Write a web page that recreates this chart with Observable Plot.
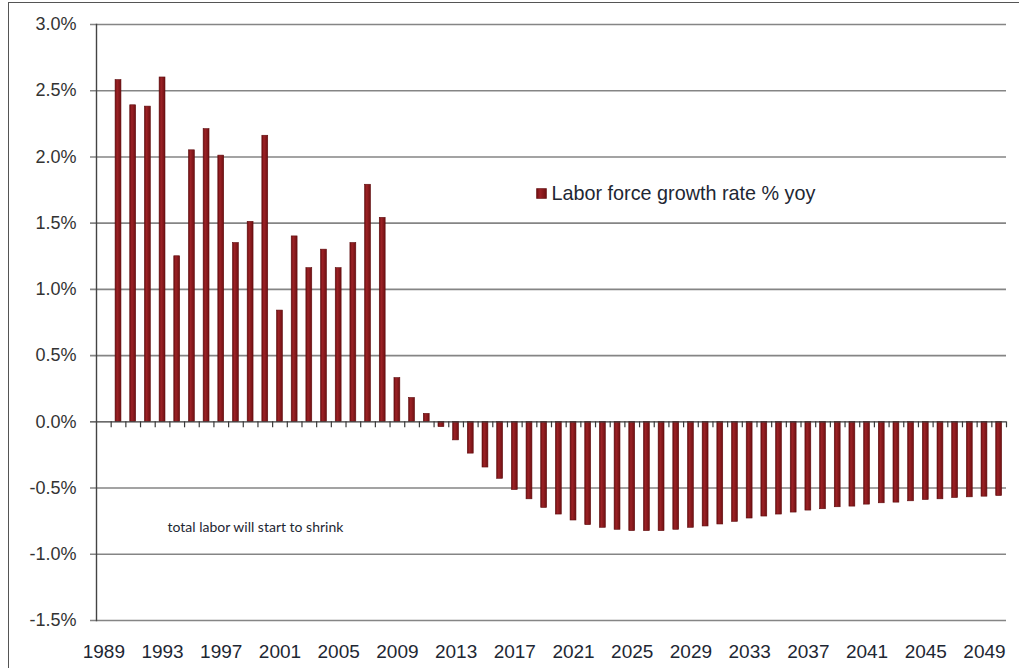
<!DOCTYPE html>
<html>
<head>
<meta charset="utf-8">
<script src="https://cdn.jsdelivr.net/npm/d3@7"></script>
<script src="https://cdn.jsdelivr.net/npm/@observablehq/plot@0.6"></script>
<style>
  html, body { margin: 0; padding: 0; background: #fff; overflow: hidden; }
  #wrap { position: relative; width: 1019px; height: 668px; }
  #border { position: absolute; left: 8px; top: 2px; width: 1200px; height: 900px;
            border: 1.5px solid #555; pointer-events: none; }
  svg { font-family: "Liberation Sans", Arial, sans-serif; }
</style>
</head>
<body>
<div id="wrap"><div id="border"></div></div>
<script>
// ---- data ----
const years = [1989,1990,1991,1992,1993,1994,1995,1996,1997,1998,1999,2000,2001,2002,2003,2004,2005,2006,2007,2008,2009,2010,
  2011,2012,2013,2014,2015,2016,2017,2018,2019,2020,2021,2022,2023,2024,2025,2026,2027,2028,2029,2030,
  2031,2032,2033,2034,2035,2036,2037,2038,2039,2040,2041,2042,2043,2044,2045,2046,2047,2048,2049,2050];
const growth = [null,
  2.58, 2.39, 2.38, 2.60, 1.25, 2.05, 2.21, 2.01, 1.35, 1.51, 2.16, 0.84, 1.40, 1.16, 1.30, 1.16, 1.35, 1.79, 1.54, 0.33, 0.18,
  0.06, -0.04, -0.14, -0.24, -0.345, -0.43, -0.515, -0.585, -0.65, -0.70, -0.745, -0.78, -0.80, -0.815, -0.825, -0.825, -0.825, -0.815, -0.80, -0.79,
  -0.775, -0.755, -0.73, -0.715, -0.70, -0.685, -0.67, -0.66, -0.645, -0.64, -0.625, -0.615, -0.61, -0.60, -0.59, -0.585, -0.575, -0.57, -0.565, -0.56];
const xTickLabels = [1989,1993,1997,2001,2005,2009,2013,2017,2021,2025,2029,2033,2037,2041,2045,2049];
const yTicks = [-1.5,-1.0,-0.5,0,0.5,1.0,1.5,2.0,2.5,3.0];
const seriesName = "Labor force growth rate % yoy";
const note = "total labor will start to shrink";

const table = years.map((year, i) => ({year, value: growth[i]}));

// ---- layout ----
const W = 1019, H = 668;
const mL = 96, mR = 13, mT = 24, mB = 48;
const step = (W - mL - mR) / years.length;

const chart = Plot.plot({
  width: W, height: H,
  marginLeft: mL, marginRight: mR, marginTop: mT, marginBottom: mB,
  x: {type: "band", domain: years, paddingInner: 0.6, paddingOuter: 0.3, axis: null, label: null},
  y: {domain: [-1.5, 3.0], axis: null, label: null},
  marks: [
    Plot.ruleY(yTicks.filter(d => d !== 0), {stroke: "#858585", strokeWidth: 1.6, insetLeft: -6}),
    Plot.axisY(yTicks, {tickSize: 0, tickPadding: 20, tickFormat: d => d.toFixed(1) + "%", label: null,
      fontSize: 18, fill: "#333", style: "letter-spacing:0.6px"}),
    Plot.axisX(xTickLabels, {tickSize: 0, tickPadding: 24, tickFormat: d => String(d), label: null,
      fontSize: 19, fill: "#1e2733", style: "letter-spacing:0.5px"}),
    Plot.barY(table.filter(d => d.value != null), {x: "year", y: "value", fill: "url(#barGrad)", stroke: "#5e0a0c", strokeWidth: 0.6}),
    Plot.ruleY([0], {stroke: "#3a3a3a", strokeWidth: 1.4, insetLeft: -6}),
    Plot.ruleX(years.slice(1), {x: d => d, y1: 0, y2: -0.045, dx: -step / 2, stroke: "#3a3a3a", strokeWidth: 1.2}),
    Plot.ruleX(years.slice(-1), {x: d => d, y1: 0, y2: -0.045, dx: step / 2, stroke: "#3a3a3a", strokeWidth: 1.2}),
    Plot.frame({anchor: "left", stroke: "#444", strokeWidth: 1.4}),
    Plot.dot([seriesName], {frameAnchor: "top-left", dx: 445, dy: 169, symbol: "square", r: 5.6,
      fill: "url(#barGrad)", stroke: "#5e0a0c", strokeWidth: 0.6}),
    Plot.text([seriesName], {frameAnchor: "top-left", dx: 455, dy: 169, textAnchor: "start", lineAnchor: "middle",
      fontSize: 19.8, fill: "#1e2733"}),
    Plot.text([note], {frameAnchor: "top-left", dx: 71, dy: 503, textAnchor: "start", lineAnchor: "middle",
      fontSize: 14, fill: "#1e2733", fontFamily: "Lato"})
  ]
});

// gradient for the 3D-ish bars
const defs = d3.select(chart).insert("defs", ":first-child");
const g = defs.append("linearGradient").attr("id", "barGrad").attr("x1", "0").attr("x2", "1").attr("y1", "0").attr("y2", "0");
g.append("stop").attr("offset", "0%").attr("stop-color", "#6e0e10");
g.append("stop").attr("offset", "35%").attr("stop-color", "#9c2226");
g.append("stop").attr("offset", "100%").attr("stop-color", "#701012");

document.getElementById("wrap").prepend(chart);
</script>
</body>
</html>
